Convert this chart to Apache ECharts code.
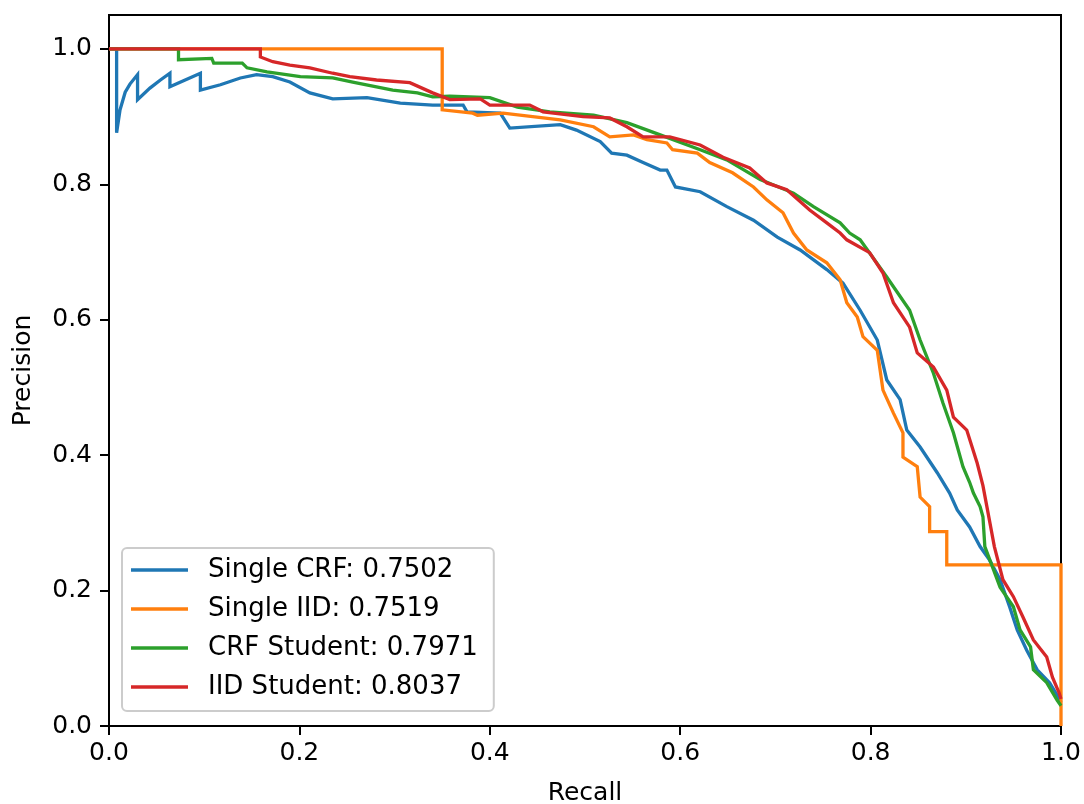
<!DOCTYPE html>
<html>
<head>
<meta charset="utf-8">
<script src="https://cdn.jsdelivr.net/npm/echarts@6/dist/echarts.min.js"></script>
<style>
html,body{margin:0;padding:0;background:#fff;}
#chart{width:1084px;height:804px;}
</style>
</head>
<body>
<div id="chart"></div>
<script>
// Series names (legend labels)
const seriesNames = ['Single CRF: 0.7502', 'Single IID: 0.7519', 'CRF Student: 0.7971', 'IID Student: 0.8037'];

// Single CRF
const recallSingleCRF = [0.0, 0.008, 0.008, 0.0116, 0.017, 0.022, 0.030, 0.030, 0.043, 0.054, 0.064, 0.064, 0.080, 0.096, 0.096, 0.117, 0.138, 0.155, 0.172, 0.190, 0.211, 0.235, 0.271, 0.306, 0.340, 0.372, 0.376, 0.411, 0.421, 0.474, 0.491, 0.516, 0.528, 0.544, 0.561, 0.579, 0.586, 0.595, 0.621, 0.649, 0.677, 0.702, 0.726, 0.754, 0.771, 0.789, 0.807, 0.817, 0.831, 0.838, 0.852, 0.870, 0.883, 0.891, 0.904, 0.915, 0.925, 0.936, 0.946, 0.954, 0.964, 0.975, 0.988, 0.997, 1.0];
const precisionSingleCRF = [1.0, 1.0, 0.876, 0.910, 0.936, 0.948, 0.962, 0.925, 0.942, 0.954, 0.964, 0.944, 0.954, 0.964, 0.939, 0.947, 0.957, 0.962, 0.959, 0.951, 0.935, 0.926, 0.928, 0.920, 0.917, 0.917, 0.907, 0.905, 0.883, 0.888, 0.880, 0.863, 0.846, 0.843, 0.832, 0.821, 0.821, 0.796, 0.789, 0.767, 0.747, 0.722, 0.703, 0.674, 0.654, 0.614, 0.570, 0.511, 0.482, 0.437, 0.412, 0.374, 0.344, 0.319, 0.294, 0.265, 0.245, 0.216, 0.176, 0.142, 0.112, 0.083, 0.064, 0.043, 0.035];

// Single IID
const recallSingleIID = [0.0, 0.35, 0.35, 0.382, 0.387, 0.414, 0.445, 0.474, 0.509, 0.526, 0.551, 0.565, 0.586, 0.592, 0.618, 0.631, 0.655, 0.677, 0.691, 0.708, 0.719, 0.733, 0.754, 0.768, 0.775, 0.786, 0.792, 0.807, 0.813, 0.824, 0.834, 0.834, 0.849, 0.852, 0.862, 0.862, 0.880, 0.880, 1.0, 1.0];
const precisionSingleIID = [1.0, 1.0, 0.910, 0.905, 0.902, 0.905, 0.900, 0.895, 0.885, 0.870, 0.873, 0.866, 0.861, 0.851, 0.846, 0.832, 0.817, 0.796, 0.777, 0.758, 0.728, 0.703, 0.684, 0.659, 0.625, 0.604, 0.575, 0.555, 0.496, 0.462, 0.433, 0.397, 0.383, 0.338, 0.324, 0.287, 0.287, 0.238, 0.238, 0.0];

// CRF Student
const recallCRFStudent = [0.0, 0.073, 0.073, 0.108, 0.110, 0.140, 0.145, 0.166, 0.201, 0.235, 0.256, 0.298, 0.324, 0.340, 0.358, 0.400, 0.429, 0.463, 0.509, 0.544, 0.579, 0.621, 0.649, 0.684, 0.719, 0.740, 0.768, 0.778, 0.789, 0.817, 0.841, 0.852, 0.866, 0.876, 0.887, 0.897, 0.904, 0.908, 0.915, 0.918, 0.920, 0.928, 0.936, 0.950, 0.957, 0.968, 0.971, 0.985, 0.996, 1.0];
const precisionCRFStudent = [1.0, 1.0, 0.984, 0.986, 0.979, 0.979, 0.972, 0.966, 0.959, 0.957, 0.951, 0.939, 0.935, 0.929, 0.930, 0.928, 0.914, 0.907, 0.902, 0.891, 0.873, 0.851, 0.836, 0.807, 0.787, 0.767, 0.743, 0.728, 0.718, 0.663, 0.614, 0.570, 0.521, 0.477, 0.433, 0.383, 0.360, 0.344, 0.324, 0.309, 0.265, 0.235, 0.205, 0.176, 0.142, 0.117, 0.083, 0.064, 0.038, 0.030];

// IID Student
const recallIIDStudent = [0.0, 0.159, 0.159, 0.172, 0.190, 0.211, 0.235, 0.253, 0.281, 0.316, 0.340, 0.358, 0.390, 0.400, 0.442, 0.456, 0.498, 0.526, 0.544, 0.561, 0.589, 0.621, 0.645, 0.673, 0.691, 0.712, 0.736, 0.754, 0.768, 0.775, 0.799, 0.813, 0.824, 0.841, 0.849, 0.866, 0.880, 0.887, 0.901, 0.912, 0.918, 0.922, 0.930, 0.939, 0.950, 0.960, 0.971, 0.985, 0.991, 0.998, 1.0];
const precisionIIDStudent = [1.0, 1.0, 0.988, 0.981, 0.976, 0.972, 0.964, 0.959, 0.954, 0.950, 0.935, 0.925, 0.926, 0.917, 0.917, 0.907, 0.900, 0.898, 0.885, 0.870, 0.870, 0.858, 0.840, 0.824, 0.802, 0.792, 0.762, 0.743, 0.728, 0.718, 0.699, 0.669, 0.625, 0.589, 0.551, 0.530, 0.496, 0.456, 0.437, 0.388, 0.355, 0.325, 0.265, 0.216, 0.191, 0.161, 0.127, 0.102, 0.072, 0.049, 0.040];

// Axis tick values
const xTicks = [0.0, 0.2, 0.4, 0.6, 0.8, 1.0];
const yTicks = [0.0, 0.2, 0.4, 0.6, 0.8, 1.0];

const colors = ['#1f77b4', '#ff7f0e', '#2ca02c', '#d62728'];
const recalls = [recallSingleCRF, recallSingleIID, recallCRFStudent, recallIIDStudent];
const precisions = [precisionSingleCRF, precisionSingleIID, precisionCRFStudent, precisionIIDStudent];

const FONT = 'DejaVu Sans';

const series = seriesNames.map((name, i) => ({
  name: name,
  type: 'line',
  data: recalls[i].map((r, k) => [r, precisions[i][k]]),
  showSymbol: false,
  symbol: 'none',
  lineStyle: { color: colors[i], width: 3.3, join: 'miter' },
  itemStyle: { color: colors[i] },
  clip: false,
  animation: false
}));

const chart = echarts.init(document.getElementById('chart'), null, { renderer: 'canvas' });
chart.setOption({
  animation: false,
  backgroundColor: '#fff',
  color: colors,
  grid: {
    left: 109, right: 23, top: 15, bottom: 78,
    outerBoundsMode: 'none', containLabel: false,
    show: true, borderColor: '#000', borderWidth: 2, backgroundColor: 'transparent'
  },
  xAxis: {
    type: 'value', min: 0, max: 1, interval: 0.2,
    name: 'Recall', nameLocation: 'middle', nameGap: 55,
    nameTextStyle: { fontFamily: FONT, fontSize: 25, color: '#000' },
    axisLine: { show: true, lineStyle: { color: '#000', width: 2 } },
    axisTick: { show: true, length: 9, lineStyle: { color: '#000', width: 2 }, customValues: xTicks },
    axisLabel: { fontFamily: FONT, fontSize: 25, color: '#000', margin: 15, customValues: xTicks,
      formatter: v => v.toFixed(1) },
    splitLine: { show: false }
  },
  yAxis: {
    type: 'value', min: 0, max: 1.05,
    name: 'Precision', nameLocation: 'middle', nameGap: 73, nameRotate: 90,
    nameTextStyle: { fontFamily: FONT, fontSize: 25, color: '#000' },
    axisLine: { show: true, lineStyle: { color: '#000', width: 2 } },
    axisTick: { show: true, length: 9, lineStyle: { color: '#000', width: 2 }, customValues: yTicks },
    axisLabel: { fontFamily: FONT, fontSize: 25, color: '#000', margin: 17, customValues: yTicks,
      formatter: v => v.toFixed(1) },
    splitLine: { show: false }
  },
  legend: {
    orient: 'vertical',
    left: 122, top: 548,
    padding: [8, 16, 10, 9],
    itemWidth: 57, itemHeight: 3.5,
    itemGap: 11,
    icon: 'rect',
    backgroundColor: 'rgba(255,255,255,0.8)',
    borderColor: '#cccccc', borderWidth: 2, borderRadius: 5,
    textStyle: { fontFamily: FONT, fontSize: 26, color: '#000', lineHeight: 28, padding: [0, 0, 0, 15] },
    data: seriesNames
  },
  series: series
});
</script>
</body>
</html>
